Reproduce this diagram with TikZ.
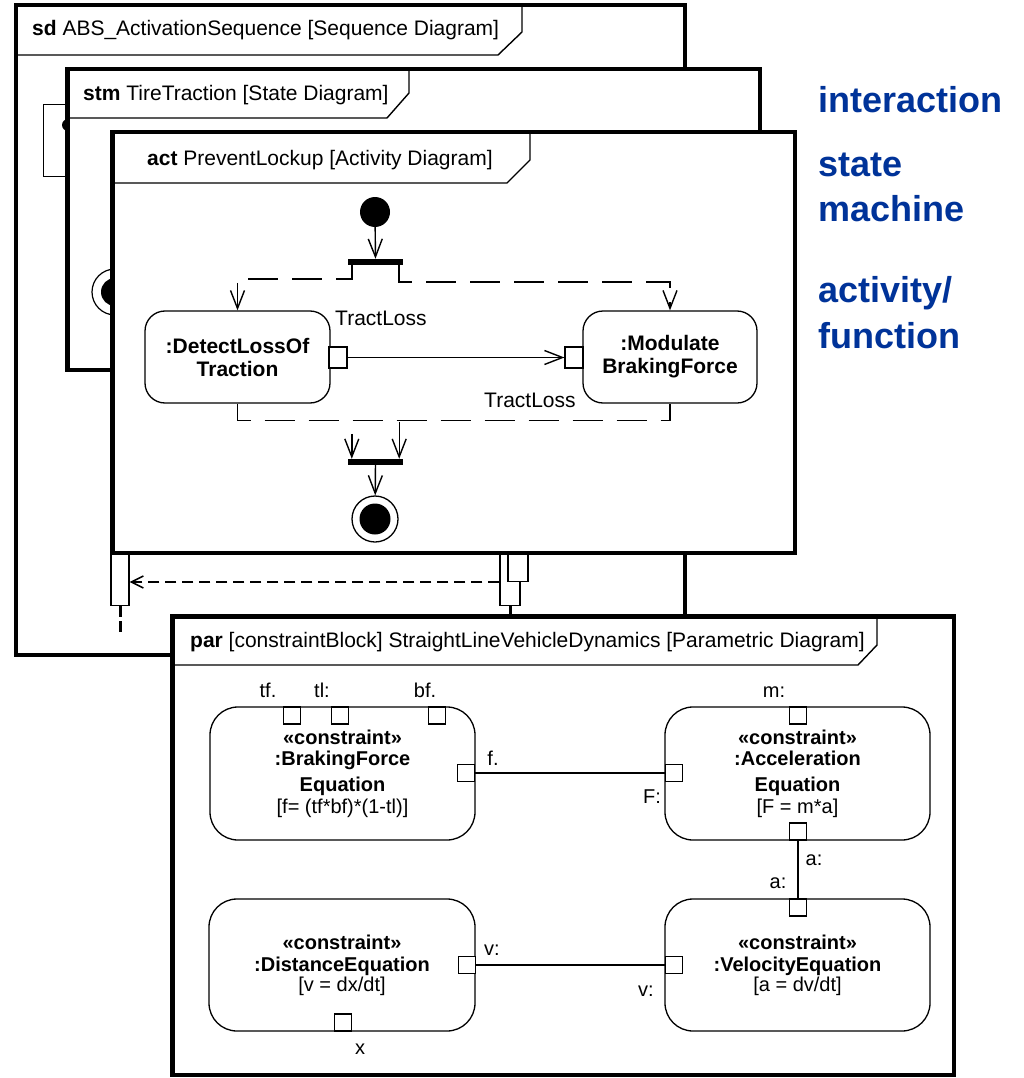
\documentclass[tikz,border=0pt]{standalone}
\usepackage{fontspec}
\setmainfont{Liberation Sans}
\usetikzlibrary{arrows.meta}
\definecolor{umlblue}{RGB}{0,51,153}
\begin{document}
\begin{tikzpicture}[x=1pt,y=-1pt,
  diagframe/.style={draw=black, line width=4.5pt, fill=white},
  hdrline/.style={draw=black, line width=1.4pt},
  hdrtext/.style={anchor=base west, inner sep=0pt, font=\fontsize{21}{24}\selectfont},
  lbl/.style={anchor=base, inner sep=0pt, font=\fontsize{20}{22}\selectfont},
  plain/.style={anchor=base west, inner sep=0pt, font=\fontsize{21}{23}\selectfont},
  actionbox/.style={draw, line width=1.3pt, rounded corners=20pt, align=center,
    font=\fontsize{21}{23}\selectfont\bfseries, inner sep=0pt},
  cbox/.style={draw, line width=1.3pt, rounded corners=28pt, align=center,
    inner sep=0pt, font=\fontsize{20}{22}\selectfont},
  port/.style={draw, line width=1.2pt, fill=white, minimum size=17pt, inner sep=0pt},
  pin/.style={draw, line width=1.2pt, fill=white, minimum width=18pt, minimum height=21pt, inner sep=0pt},
  syncbar/.style={fill=black, minimum width=55pt, minimum height=6pt, inner sep=0pt},
  activation/.style={draw, line width=1.4pt, fill=white, inner sep=0pt, anchor=south},
  vtip/.style={-{Straight Barb[length=18pt,width=14pt,line width=1.4pt]}},
  flow/.style={line width=1.4pt, vtip},
  objflow/.style={line width=1.6pt, dash pattern=on 30pt off 14pt},
  conn/.style={line width=1.3pt},
  ret/.style={line width=2pt, dash pattern=on 11pt off 6pt,
    -{Straight Barb[length=12pt,width=12pt,line width=1.5pt]}},
  bluetext/.style={anchor=base west, inner sep=0pt, text=umlblue,
    font=\fontsize{36}{40}\selectfont\bfseries},
]
\useasboundingbox (0,0) rectangle (1023,1078);
\fill[white] (0,0) rectangle (1023,1078);

% ---------- sequence diagram (back) ----------
\draw[diagframe] (16,5) rectangle (685,655);
\draw[hdrline] (16,55) -- (498,55) -- (522,32) -- (522,5);
\node[hdrtext] (sdtitle) at (32,36) {\textbf{sd} ABS\_ActivationSequence [Sequence Diagram]};
\node[draw, line width=1.4pt, fill=white, minimum width=40pt, minimum height=72pt,
      inner sep=0pt, anchor=north west] (lifehead) at (43,104) {};
\node[circle, fill=black, minimum size=12pt, inner sep=0pt] (sddot) at (68,125) {};
\node[activation, minimum width=18pt, minimum height=70pt] (lact) at (120,606) {};
\node[activation, minimum width=20pt, minimum height=70pt] (ractA) at (510,606) {};
\node[activation, minimum width=20pt, minimum height=46pt] (ractB) at (518,582) {};
\draw[line width=3pt, dash pattern=on 11pt off 4pt] (lact.south) -- ++(0,26);
\draw[line width=3pt] (ractA.south) -- ++(0,30);
\draw[ret] (ractA.west |- ractB.south) -- (lact.east |- ractB.south);

% ---------- state machine diagram ----------
\draw[diagframe] (67.5,69) rectangle (760,370);
\draw[hdrline] (67.5,118) -- (387,118) -- (409,93) -- (409,69);
\node[hdrtext] (stmtitle) at (83,101) {\textbf{stm} TireTraction [State Diagram]};
\node[circle, draw, line width=1.2pt, fill=white, minimum size=46pt, inner sep=0pt] (stmfinal) at (115,292) {};
\fill (stmfinal.center) circle (14);

% ---------- activity diagram ----------
\draw[diagframe] (112.5,132) rectangle (795,553);
\draw[hdrline] (112.5,183) -- (507,183) -- (530,160) -- (530,132);
\node[hdrtext] (acttitle) at (147,166) {\textbf{act} PreventLockup [Activity Diagram]};

\node[circle, fill=black, minimum size=30pt, inner sep=0pt] (init) at (375,212) {};
\node[syncbar] (fork) at (375.5,262) {};
\draw[flow] (init) -- (fork);

\node[actionbox, minimum width=185pt, minimum height=92pt] (detect) at (237.5,357) {:DetectLossOf\\Traction};
\node[actionbox, minimum width=174pt, minimum height=92pt] (modulate) at (670,357) {:Modulate\\BrakingForce};
\node[pin] (outpin) at (338,357.5) {};
\node[pin] (inpin) at (574,357.5) {};
\draw[flow] (outpin) -- (inpin);
\node[plain] (tractA) at (335,325) {TractLoss};
\node[plain] (tractB) at (484,407) {TractLoss};

\draw[objflow, vtip] ([xshift=4pt]fork.south west) -- ++(0,14) -| (detect.north);
\draw[objflow, vtip] ([xshift=-4pt]fork.south east) -- ++(0,17) -| (modulate.north);
\draw[objflow] (detect.south) -- ++(0,17) -| (modulate.south);

\node[syncbar] (join) at (375.5,462) {};
\draw[flow] ([xshift=4pt,yshift=25pt]join.north west) -- ([xshift=4pt]join.north west);
\draw[flow] ([xshift=-4pt,yshift=37pt]join.north east) -- ([xshift=-4pt]join.north east);
\node[circle, draw, line width=1.3pt, fill=white, minimum size=46pt, inner sep=0pt] (final) at (375,519) {};
\fill (final.center) circle (15.5);
\draw[flow] (join) -- (final);

% ---------- parametric diagram (front) ----------
\draw[diagframe] (172.5,616.5) rectangle (954,1075);
\draw[hdrline] (172.5,665) -- (858,665) -- (877,645) -- (877,616.5);
\node[hdrtext] (partitle) at (190,647) {\textbf{par} [constraintBlock] StraightLineVehicleDynamics [Parametric Diagram]};

\node[cbox, minimum width=265pt, minimum height=133pt] (brake) at (342.5,773.5)
  {\textbf{«constraint»}\\[-1pt]\textbf{:BrakingForce}\\[4pt]\textbf{Equation}\\{[f= (tf*bf)*(1-tl)]}};
\node[cbox, minimum width=265pt, minimum height=133pt] (accel) at (797.5,773.5)
  {\textbf{«constraint»}\\[-1pt]\textbf{:Acceleration}\\[4pt]\textbf{Equation}\\{[F = m*a]}};
\node[cbox, minimum width=266pt, minimum height=132pt] (dist) at (342,965)
  {\textbf{«constraint»}\\\textbf{:DistanceEquation}\\[-2pt]{[v = dx/dt]}};
\node[cbox, minimum width=265pt, minimum height=132pt] (velo) at (797.5,965)
  {\textbf{«constraint»}\\\textbf{:VelocityEquation}\\[-2pt]{[a = dv/dt]}};

\node[port] (ptf) at (292,715.5) {};
\node[port] (ptl) at (340,715.5) {};
\node[port] (pbf) at (437,715.5) {};
\node[port] (pf) at (466,773) {};
\node[port] (pF) at (674,773) {};
\node[port] (pm) at (798,715.5) {};
\node[port] (pa1) at (798,831.5) {};
\node[port] (pa2) at (798,907.5) {};
\node[port] (pv1) at (467,965) {};
\node[port] (pv2) at (674,965) {};
\node[port] (px) at (343,1022.5) {};

\draw[conn] (pf) -- (pF);
\draw[conn] (pa1) -- (pa2);
\draw[conn] (pv1) -- (pv2);

\node[lbl] (ltf) at (268,697) {tf.};
\node[lbl] (ltl) at (322,697) {tl:};
\node[lbl] (lbf) at (425,697) {bf.};
\node[lbl] (lm) at (774,697) {m:};
\node[lbl] (lf) at (493,765) {f.};
\node[lbl] (lF) at (652,803) {F:};
\node[lbl] (la1) at (814,865) {a:};
\node[lbl] (la2) at (778,888) {a:};
\node[lbl] (lv1) at (492,955) {v:};
\node[lbl] (lv2) at (646,996) {v:};
\node[lbl] (lx) at (360,1054) {x};

% ---------- diagram kind captions ----------
\node[bluetext] (capint) at (818,113) {interaction};
\node[bluetext] (capstate) at (818,177) {state};
\node[bluetext] (capmach) at (818,222) {machine};
\node[bluetext] (capact) at (818,302) {activity/};
\node[bluetext] (capfun) at (818,348) {function};
\end{tikzpicture}
\end{document}
